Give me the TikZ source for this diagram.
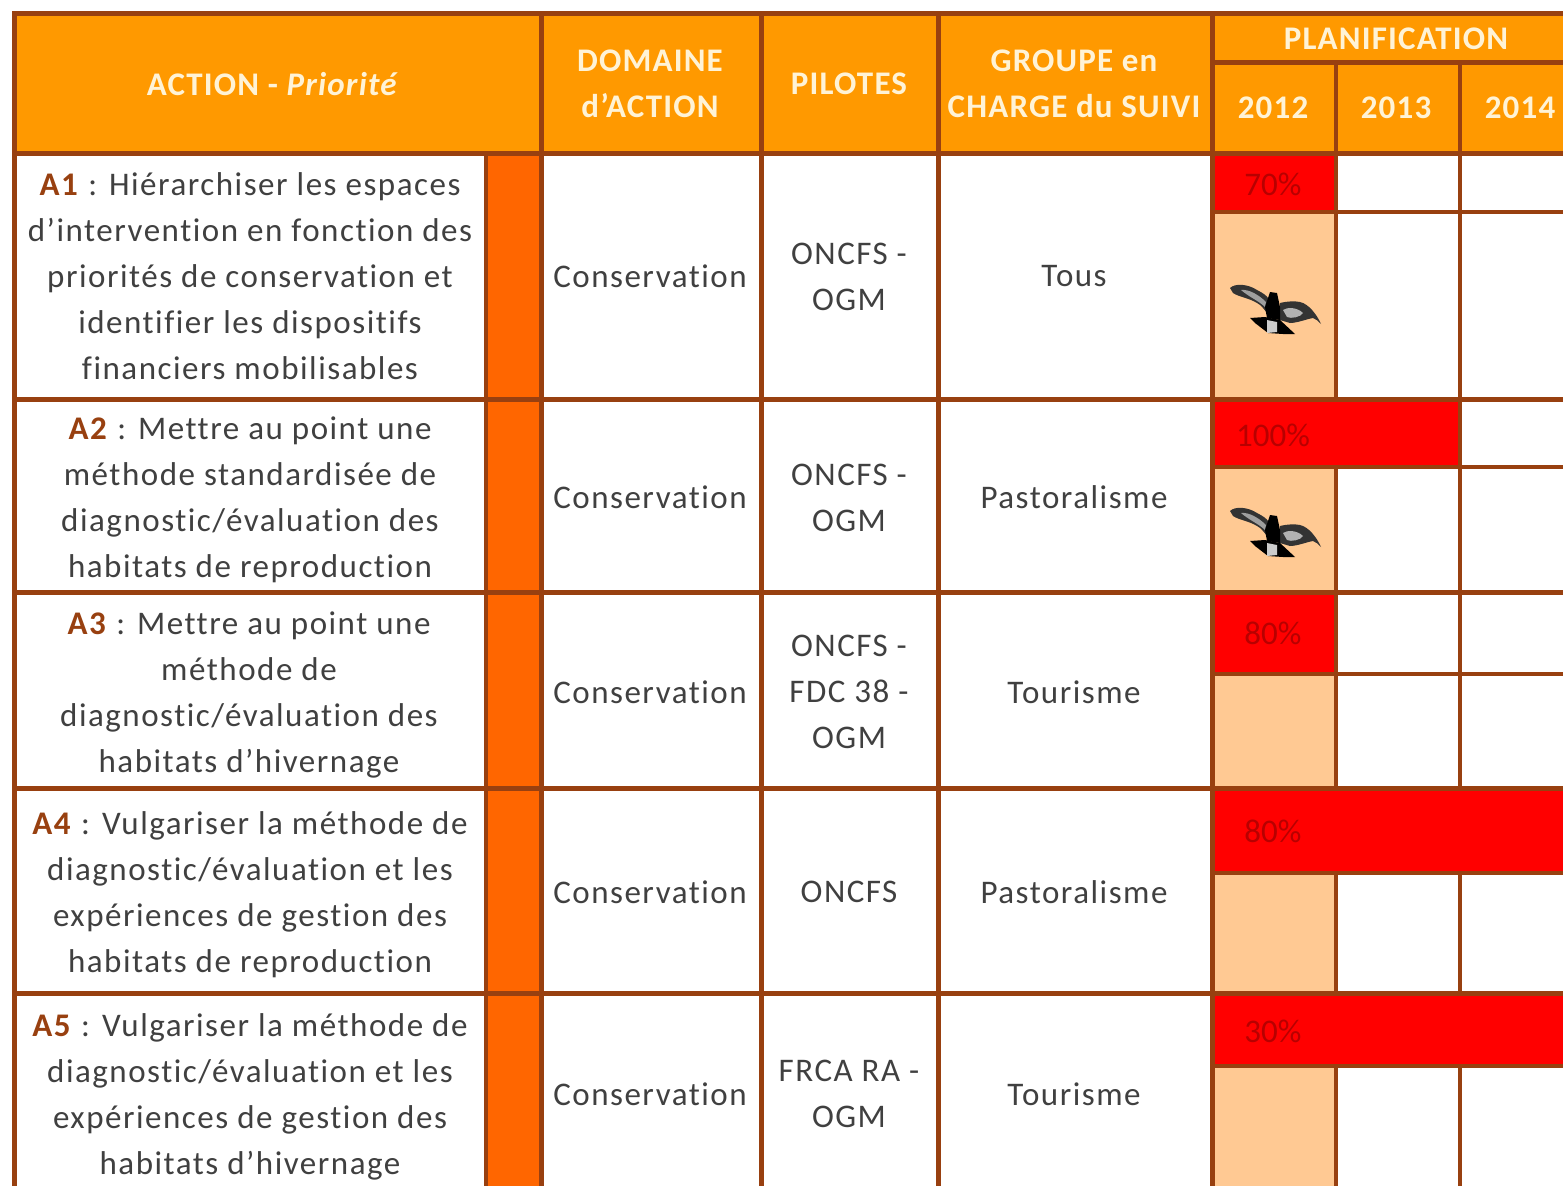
\documentclass[tikz,border=0pt]{standalone}
\usepackage{fontspec}
\setmainfont{Carlito}
\newfontfamily\spaced[LetterSpace=4.6,Ligatures=NoCommon]{Carlito}
\newfontfamily\spacedhead[LetterSpace=3.6,Ligatures=NoCommon]{Carlito}
\definecolor{rule}{HTML}{984010}
\definecolor{head}{HTML}{FF9900}
\definecolor{prio}{HTML}{FF6600}
\definecolor{peach}{HTML}{FFC993}
\definecolor{redc}{HTML}{FF0000}
\definecolor{ink}{HTML}{404040}
\definecolor{lab}{HTML}{984010}
\definecolor{pct}{HTML}{B80000}
\definecolor{headtxt}{HTML}{FFF3D6}
\newcommand{\act}[1]{\textcolor{lab}{\textbf{#1}}}
\tikzset{
  x=1pt,y=-1pt,
  body/.style={font=\fontsize{33}{46}\spaced,text=ink,align=center,inner sep=0pt},
  headtext/.style={font=\fontsize{33}{46}\spacedhead\bfseries,text=headtxt,align=center,inner sep=0pt},
  pcttext/.style={font=\fontsize{33}{40}\selectfont,text=pct,inner sep=0pt},
  major/.style={draw=rule,line width=5pt},
  minor/.style={draw=rule,line width=4pt},
  pics/bird/.style={code={
    \fill[black!80] (-43,-24) .. controls (-38,-29) and (-25,-28) .. (-16,-22) .. controls (-10,-19) and (-6,-16) .. (-5,-14) -- (-6,1) .. controls (-10,-4) and (-12,-7) .. (-16,-9) .. controls (-24,-14) and (-34,-15) .. (-40,-19) -- cycle;
    \fill[gray!75] (-32,-22) .. controls (-24,-23) and (-14,-17) .. (-7,-10) -- (-8,-5) .. controls (-14,-11) and (-24,-15) .. (-32,-22) -- cycle;
    \fill[black!80] (7,-9) .. controls (15,-11) and (22,-11) .. (27,-10) .. controls (36,-8) and (44,3) .. (48,12) .. controls (45,9) and (43,7) .. (40,6) .. controls (34,7) and (24,11) .. (17,11) -- (7,8) -- cycle;
    \fill[gray!60] (10,-2) .. controls (14,-5) and (24,-5) .. (30,1) .. controls (28,5) and (18,7) .. (14,5) -- cycle;
    \fill[black] (-3,-20) -- (4,-19) -- (7,-5) -- (7,8) -- (-6,6) -- (-8,-5) -- cycle;
    \fill[black] (-23,6) -- (-8,5) -- (7,8) -- (22,22) -- (10,22) -- (-5,21) -- (-18,11) -- cycle;
    \fill[gray!40] (-6,8) -- (4,10) -- (4,20) -- (-6,21) -- cycle;
  }}
}
\begin{document}
\begin{tikzpicture}
\useasboundingbox (0,0) rectangle (1563,1186);
\fill[white] (0,0) rectangle (1563,1186);
% fills
\fill[head] (12,12) rectangle (1563,153);
\fill[prio] (486,153) rectangle (541,1186);
\fill[peach] (1212,153) rectangle (1336,1186);
\fill[redc] (1212,153) rectangle (1336,212);
\fill[redc] (1212,399) rectangle (1460,467);
\fill[redc] (1212,592) rectangle (1336,674);
\fill[redc] (1212,788) rectangle (1563,873);
\fill[redc] (1212,993) rectangle (1563,1066);
% verticals
\draw[major] (14,12) -- (14,1186);
\draw[minor] (486,153) -- (486,1186);
\draw[major] (541,12) -- (541,1186);
\draw[major] (761,12) -- (761,1186);
\draw[major] (938,12) -- (938,1186);
\draw[major] (1212,12) -- (1212,1186);
\draw[minor] (1336,62) -- (1336,399);
\draw[minor] (1336,467) -- (1336,788);
\draw[minor] (1336,873) -- (1336,993);
\draw[minor] (1336,1066) -- (1336,1186);
\draw[minor] (1460,62) -- (1460,788);
\draw[minor] (1460,873) -- (1460,993);
\draw[minor] (1460,1066) -- (1460,1186);
% horizontals
\draw[major] (12,13) -- (1563,13);
\draw[major] (1212,62) -- (1563,62);
\draw[major] (12,153) -- (1563,153);
\draw[major] (12,399) -- (1563,399);
\draw[major] (12,592) -- (1563,592);
\draw[major] (12,788) -- (1563,788);
\draw[major] (12,993) -- (1563,993);
\draw[minor] (1212,212) -- (1563,212);
\draw[minor] (1212,467) -- (1563,467);
\draw[minor] (1212,674) -- (1563,674);
\draw[minor] (1212,873) -- (1563,873);
\draw[minor] (1212,1066) -- (1563,1066);
% header
\node[headtext] (hAction) at (273,84) {ACTION - \textit{Priorité}};
\node[headtext] (hDom) at (650,84) {DOMAINE\\d’ACTION};
\node[headtext] (hPil) at (849,84) {PILOTES};
\node[headtext] (hGrp) at (1074,84) {GROUPE en\\CHARGE du SUIVI};
\node[headtext] (hPlan) at (1396,39) {PLANIFICATION};
\node[headtext] (y12) at (1273,108) {2012};
\node[headtext] (y13) at (1396,108) {2013};
\node[headtext] (y14) at (1520,108) {2014};
% column 1
\node[body] (a1) at (250,276) {\act{A1} : Hiérarchiser les espaces\\d’intervention en fonction des\\priorités de conservation et\\identifier les dispositifs\\financiers mobilisables};
\node[body] (a2) at (250,500) {\act{A2} : Mettre au point une\\méthode standardisée de\\diagnostic/évaluation des\\habitats de reproduction};
\node[body] (a3) at (249,695) {\act{A3} : Mettre au point une\\méthode de\\diagnostic/évaluation des\\habitats d’hivernage};
\node[body] (a4) at (250,895) {\act{A4} : Vulgariser la méthode de\\diagnostic/évaluation et les\\expériences de gestion des\\habitats de reproduction};
\node[body] (a5) at (250,1097) {\act{A5} : Vulgariser la méthode de\\diagnostic/évaluation et les\\expériences de gestion des\\habitats d’hivernage};
% domaine
\node[body] (d1) at (650,276) {Conservation};
\node[body] (d2) at (650,497) {Conservation};
\node[body] (d3) at (650,692) {Conservation};
\node[body] (d4) at (650,892) {Conservation};
\node[body] (d5) at (650,1094) {Conservation};
% pilotes
\node[body] (p1) at (849,277) {ONCFS -\\OGM};
\node[body] (p2) at (849,498) {ONCFS -\\OGM};
\node[body] (p3) at (849,692) {ONCFS -\\FDC 38 -\\OGM};
\node[body] (p4) at (849,892) {ONCFS};
\node[body] (p5) at (849,1094) {FRCA RA -\\OGM};
% groupe
\node[body] (g1) at (1074,276) {Tous};
\node[body] (g2) at (1074,497) {Pastoralisme};
\node[body] (g3) at (1074,692) {Tourisme};
\node[body] (g4) at (1074,892) {Pastoralisme};
\node[body] (g5) at (1074,1094) {Tourisme};
% percentages
\node[pcttext] (q1) at (1273,184) {70\%};
\node[pcttext] (q2) at (1273,435) {100\%};
\node[pcttext] (q3) at (1273,633) {80\%};
\node[pcttext] (q4) at (1273,831) {80\%};
\node[pcttext] (q5) at (1273,1031) {30\%};
% birds
\pic at (1273,312) {bird};
\pic at (1273,535) {bird};
\end{tikzpicture}
\end{document}
